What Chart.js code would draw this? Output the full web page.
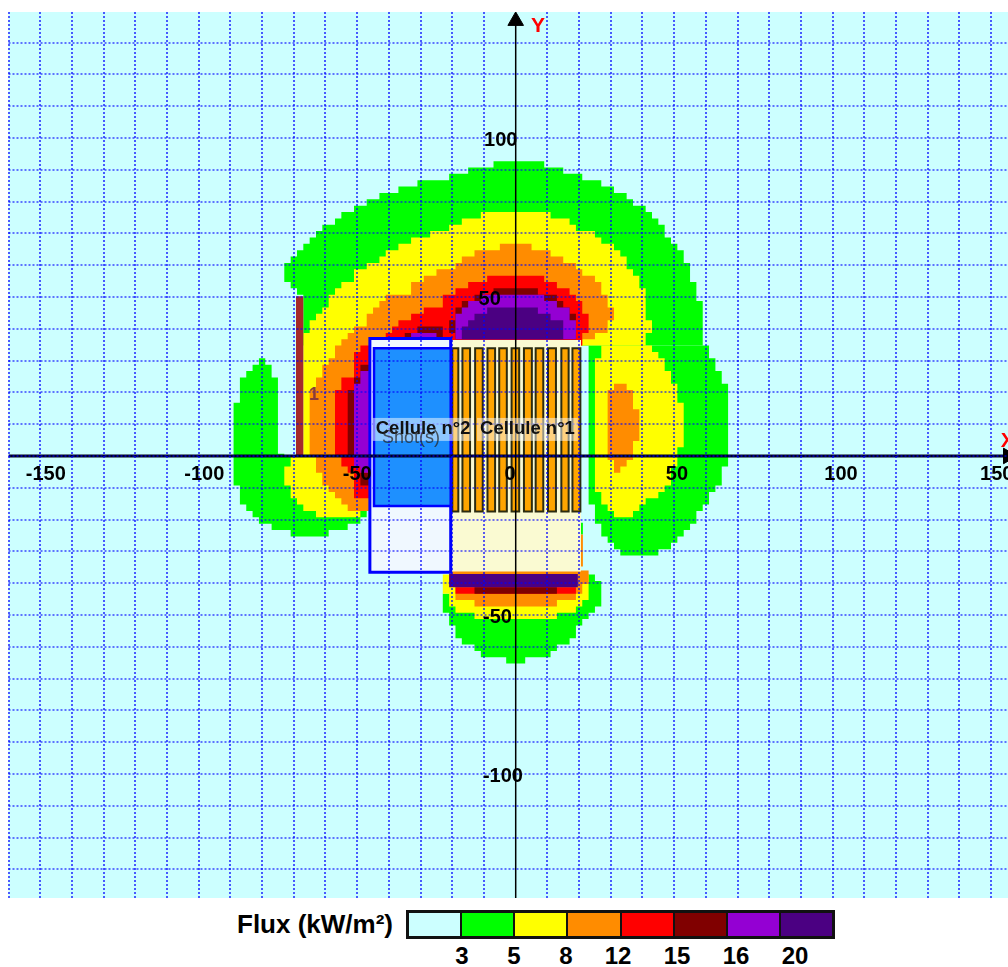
<!DOCTYPE html>
<html lang="en">

<head>
  <meta charset="UTF-8">
  <title>Flux thermique</title>
  <script src="https://cdn.jsdelivr.net/npm/chart.js"></script>
  <style>
    * {
      margin: 0;
      padding: 0;
      box-sizing: border-box;
    }

    body {
      width: 1008px;
      height: 967px;
      position: relative;
      overflow: hidden;
      background: #fff;
      font-family: 'Liberation Sans', Arial, sans-serif;
    }

    canvas {
      position: absolute;
      left: 0;
      top: 0;
    }

    .legend-title {
      position: absolute;
      right: 615px;
      top: 909px;
      font-size: 26px;
      font-weight: bold;
      white-space: nowrap;
    }

    .legend-bar {
      position: absolute;
      left: 406px;
      top: 910px;
      width: 429px;
      height: 29px;
      display: flex;
      border: 3px solid #111;
    }

    .legend-bar div {
      flex: 1;
      border-left: 2px solid #111;
    }

    .legend-bar div:first-child {
      border-left: none;
    }

    .legend-label {
      position: absolute;
      top: 942px;
      width: 60px;
      text-align: center;
      font-size: 24px;
      font-weight: bold;
    }
  </style>
</head>

<body>
  <canvas id="fluxChart" width="1008" height="900"></canvas>
  <div class="legend-title">Flux (kW/m²)</div>
  <div class="legend-bar" id="legendBar"></div>

  <script>
    // Colours and thresholds of the flux scale
    const fluxColors = ['#ccffff', '#00ff00', '#ffff00', '#ff8c00', '#ff0000', '#800000', '#9400d3', '#4b0082'];
    const fluxLabels = ['3', '5', '8', '12', '15', '16', '20'];

    const xTickLabels = [-150, -100, -50, 0, 50, 100, 150];
    const yTickLabels = [100, 50, -50, -100];

    // Flux zones, row by row: [top of row, left, right]. Last entry is the bottom of the last row.
    const greenTop = [[92.7, -7, 9], [90.7, -15, 15], [88.7, -21, 21], [86.7, -31, 27], [84.7, -37, 31], [82.7, -43, 35], [80.7, -47, 37], [78.7, -51, 41], [76.7, -55, 43], [74.7, -57, 45], [72.7, -61, 47], [70.7, -63, 47], [68.7, -65, 49], [66.7, -67, 51], [64.7, -69, 53], [62.7, -71, 53], [60.7, -73, 55], [54.7, -71, 57], [52.7, -69, 57], [50.7, -67, 57], [48.7, -67, 59], [34.7]];
    const greenRight = [[34.7, 23, 61], [30.7, 23, 63], [26.7, 23, 65], [22.7, 23, 67], [-3.3, 23, 65], [-9.3, 23, 63], [-11.3, 23, 61], [-15.3, 25, 59], [-17.3, 25, 57], [-21.3, 27, 55], [-23.3, 27, 53], [-25.3, 29, 51], [-27.3, 31, 49], [-29.3, 33, 45], [-31.3]];
    const greenLobe = [[30.7, -81, -79], [28.7, -83, -77], [26.7, -85, -77], [24.7, -87, -75], [16.7, -89, -75], [0.7, -89, -73], [0, -89, -47], [-9.3, -87, -47], [-15.3, -85, -47], [-17.3, -83, -47], [-19.3, -81, -49], [-21.3, -77, -53], [-23.3, -71, -59], [-25.3]];
    const greenBottom = [[-37.3, -21, 25], [-39.3, -21, 27], [-43.3, -23, 27], [-47.3, -23, 25], [-49.3, -21, 23], [-51.3, -21, 21], [-53.3, -19, 19], [-57.3, -17, 17], [-59.3, -13, 13], [-61.3, -11, 11], [-63.3, -3, 3], [-65.3]];
    const greenSliver = [[-21, 20, 21.2], [-24.7]];

    const yellowTop = [[76.7, -11, 11], [74.7, -17, 17], [72.7, -21, 19], [70.7, -27, 25], [68.7, -33, 27], [66.7, -37, 31], [64.7, -41, 33], [62.7, -43, 35], [60.7, -47, 35], [58.7, -51, 37], [56.7, -51, 39], [54.7, -55, 39], [52.7, -57, 41], [50.7, -59, 41], [46.7, -61, 41], [44.7, -63, 41], [42.7, -65, 43], [38.7, -67, 41], [34.7, -67, -20], [0]];
    const yellowRight = [[34.7, 27, 43], [32.7, 27, 45], [30.7, 25, 47], [26.7, 25, 49], [22.7, 25, 51], [16.7, 25, 53], [2.7, 25, 51], [-3.3, 25, 49], [-9.3, 25, 47], [-11.3, 27, 45], [-13.3, 27, 41], [-15.3, 29, 39], [-17.3, 31, 37], [-19.3]];
    const yellowLobe = [[0, -71, -47], [-3.3, -73, -47], [-9.3, -71, -47], [-13.3, -69, -47], [-15.3, -67, -47], [-17.3, -63, -49], [-19.3]];
    const yellowBottom = [[-37.3, -23, 23], [-43.3, -21, 23], [-45.3, -21, 21], [-47.3, -19, 19], [-49.3, -13, 13], [-51.3]];

    const orangeTop = [[66.7, -5, 5], [64.7, -13, 11], [62.7, -17, 15], [60.7, -19, 19], [58.7, -25, 21], [56.7, -29, 25], [54.7, -33, 27], [50.7, -41, 29], [48.7, -43, 29], [46.7, -45, 31], [44.7, -47, 31], [42.7, -47, 29], [40.7, -51, 29], [38.7, -53, 25], [36.7, -55, 21], [34.7, -57, -20], [30.7, -59, -20], [28.7, -61, -20], [24.7, -63, -20], [20.7, -65, -20], [0]];
    const orangeRight = [[22.7, 31, 35], [20.7, 29, 37], [14.7, 29, 39], [4.7, 29, 37], [-1.3, 31, 35], [-3.3, 31, 33], [-5.3]];
    const orangeLobe = [[0, -63, -45], [-5.3, -61, -45], [-9.3, -59, -45], [-11.3, -57, -45], [-13.3, -55, -45], [-15.3, -53, -45], [-17.3]];
    const orangeBottom = [[-36, -21, 23], [-40.3, -19, 21], [-43.3, -19, 19], [-45.3, -13, 13], [-47.3]];
    const orangeSliver = [[-24.7, 20, 21.2], [-34.8]];

    const redTop = [[56.7, -9, 9], [54.7, -15, 13], [52.7, -19, 17], [50.7, -23, 19], [48.7, -23, 21], [46.7, -29, 21], [44.7, -33, 23], [42.7, -37, 23], [40.7, -39, 23], [38.7, -41, 21], [36.7, -45, 21], [34.7, -49, -20], [32.7, -51, -20], [24.7, -55, -20], [20.7, -57, -20], [0]];
    const redLobe = [[0, -55, -45], [-3.3, -53, -45], [-5.3, -51, -45], [-13.3]];
    const redBottom = [[-41.3, -19, 19], [-43.3]];

    const maroonTop = [[52.7, -7, 7], [50.7, -13, 13], [48.7, -17, 15], [46.7, -19, 17], [44.7, -19, 19], [42.7, -21, 19], [38.7, -19, 19], [36.7]];
    const maroonCell = [[40.7, -31, -23], [38.7, -35, -23], [36.7]];
    const maroonSide = [[28.7, -49, -44], [24.7, -51, -44], [20.7, -53, -44], [0]];
    const maroonLobe = [[-5.3, -49, -45], [-9.3]];
    const maroonBottom = [[-41.3, -13, 13], [-43.3]];

    const purpleTop = [[50.7, -11, 9], [48.7, -15, 13], [46.7, -17, 17], [44.7, -19, 17], [42.7, -19, 19], [36.7]];
    const purpleCell = [[38.7, -33, -25], [36.7]];
    const purpleSide = [[26.7, -49, -44], [22.7, -51, -44], [0]];
    const purpleLobe = [[0, -51, -45], [-3.3, -49, -45], [-5.3]];

    const indigoTop = [[46.7, -9, 7], [44.7, -13, 11], [42.7, -15, 15], [40.7, -17, 15], [36.7]];
    const indigoBottom = [[-37.1, -21, 19.6], [-41.3]];

    const fluxZones = [
      [1, [greenTop, greenRight, greenLobe, greenBottom, greenSliver]],
      [2, [yellowTop, yellowRight, yellowLobe, yellowBottom]],
      [3, [orangeTop, orangeRight, orangeLobe, orangeBottom, orangeSliver]],
      [4, [redTop, redLobe, redBottom]],
      [5, [maroonTop, maroonCell, maroonSide, maroonLobe, maroonBottom]],
      [6, [purpleTop, purpleCell, purpleSide, purpleLobe]],
      [7, [indigoTop, indigoBottom]]
    ];

    // Buildings: [left, right, top, bottom]
    const wall = [-69.3, -67, 50.2, 0];
    const cellOne = [-20.5, 20.6, 36.5, -36.3];
    const cellTwo = [-46, -20.5, 36.9, -36.6];
    const cellTwoInner = [-44.7, -20.5, 33.9, -15.7];

    // Racks of cell 1
    const rackLeft = [-20, -16.8, -12.8, -8.9, -5.2, -1.3, 2.6, 6.3, 10.2, 14.4, 17.9];
    const rackRight = [-18.1, -14.4, -10.4, -6.5, -2.8, 1.1, 5.1, 8.7, 12.7, 16.7, 20.4];
    const rackTop = 33.9;
    const rackBottom = -17.5;

    // Turn rows into an outline. It starts on the leftmost vertex and ends on the rightmost
    // one because the filler clips to the x range between first and last point.
    function rowsToPoints(rows) {
      const right = [];
      const left = [];
      for (let i = 0; i < rows.length - 1; i++) {
        right.push({ x: rows[i][2], y: rows[i][0] }, { x: rows[i][2], y: rows[i + 1][0] });
        left.unshift({ x: rows[i][1], y: rows[i + 1][0] }, { x: rows[i][1], y: rows[i][0] });
      }
      const outline = right.concat(left);
      let minAt = 0;
      let maxAt = 0;
      outline.forEach((p, i) => {
        if (p.x < outline[minAt].x) minAt = i;
        if (p.x > outline[maxAt].x) maxAt = i;
      });
      const points = outline.slice(minAt).concat(outline.slice(0, minAt));
      points.push(outline[minAt], outline[maxAt]);
      return points;
    }

    function rectToPoints([left, right, top, bottom]) {
      return [
        { x: left, y: top }, { x: right, y: top }, { x: right, y: bottom },
        { x: left, y: bottom }, { x: left, y: top }, { x: right, y: top }
      ];
    }

    function shape(points, color, borderColor, borderWidth) {
      return {
        data: points,
        fill: 'shape',
        backgroundColor: color,
        borderColor: borderColor || color,
        borderWidth: borderWidth || 0,
        pointRadius: 0,
        tension: 0
      };
    }

    const datasets = [];
    fluxZones.forEach(([level, zones]) => {
      zones.forEach(rows => datasets.push(shape(rowsToPoints(rows), fluxColors[level])));
    });
    datasets.push(shape(rectToPoints(wall), '#a52a2a'));
    datasets.push(shape(rectToPoints(cellOne), '#fafad2'));
    rackLeft.forEach((left, i) => {
      datasets.push(shape(rectToPoints([left, rackRight[i], rackTop, rackBottom]), '#ffa500', '#2b2b10', 2));
    });
    datasets.push(shape(rectToPoints(cellTwo), '#f0f8ff', '#0000ff', 3));
    datasets.push(shape(rectToPoints(cellTwoInner), '#1e90ff', '#0000ff', 2.5));

    // Axis lines and the two arrow heads
    datasets.push({ data: [{ x: -160, y: 0 }, { x: 155.3, y: 0 }], borderColor: '#000020', borderWidth: 3, pointRadius: 0 });
    datasets.push({ data: [{ x: 0, y: -139 }, { x: 0, y: 139 }], borderColor: '#000', borderWidth: 1.5, pointRadius: 0 });
    datasets.push({ data: [{ x: 0, y: 136.8 }], showLine: false, pointStyle: 'triangle', pointRadius: 9, backgroundColor: '#000', borderColor: '#000' });
    datasets.push({ data: [{ x: 155.3, y: 0 }], showLine: false, pointStyle: 'triangle', pointRadius: 9, rotation: 90, backgroundColor: '#000', borderColor: '#000', clip: false });

    // first array entry painted first
    datasets.forEach((ds, i) => { ds.order = datasets.length - i; });

    // Plot background
    const plotBackground = {
      id: 'plotBackground',
      beforeDraw(chart) {
        const { ctx, chartArea: a } = chart;
        ctx.save();
        ctx.fillStyle = fluxColors[0];
        ctx.fillRect(a.left, a.top, a.right - a.left, a.bottom - a.top);
        ctx.restore();
      }
    };

    // Names written on the map
    const plotLabels = {
      id: 'plotLabels',
      afterDraw(chart) {
        const { ctx, scales: { x, y } } = chart;
        const write = (text, vx, vy, font, color, back) => {
          const px = x.getPixelForValue(vx);
          const py = y.getPixelForValue(vy);
          ctx.font = font;
          ctx.textAlign = 'center';
          ctx.textBaseline = 'middle';
          if (back) {
            const w = ctx.measureText(text).width + 6;
            ctx.fillStyle = back;
            ctx.fillRect(px - w / 2, py - 11, w, 23);
          }
          ctx.fillStyle = color;
          ctx.fillText(text, px, py);
        };
        ctx.save();
        write('1', -63.6, 19.2, 'bold 18px "Liberation Sans"', '#8b3a3a');
        write('Cellule n°2', -29.2, 8.5, 'bold 18.5px "Liberation Sans"', '#111', 'rgba(255,255,255,0.5)');
        write('Cellule n°1', 3.7, 8.5, 'bold 18.5px "Liberation Sans"', '#111', 'rgba(255,255,255,0.5)');
        write('Shot(s)', -33, 5.5, '18px "Liberation Sans"', 'rgba(40,40,40,0.75)');
        write('Y', 7, 135.2, 'bold 21px "Liberation Sans"', '#ff0000');
        write('X', 155.2, 4.7, 'bold 21px "Liberation Sans"', '#ff0000');
        ctx.restore();
      }
    };

    // The axes sit inside the plot, they must not shrink it
    function noAxisPadding(scale) {
      scale.paddingLeft = scale.paddingRight = scale.paddingTop = scale.paddingBottom = 0;
    }

    new Chart(document.getElementById('fluxChart'), {
      type: 'line',
      data: { datasets },
      plugins: [plotBackground, plotLabels],
      options: {
        responsive: false,
        animation: false,
        events: [],
        layout: { autoPadding: false, padding: { left: 8.5, top: 12, right: 0, bottom: 2 } },
        plugins: { legend: { display: false }, tooltip: { enabled: false } },
        scales: {
          x: {
            type: 'linear',
            position: { y: 0 },
            min: -160,
            max: 155.3,
            afterFit: noAxisPadding,
            border: { display: false, dash: [2, 2] },
            grid: {
              z: 1,
              drawTicks: false,
              lineWidth: 2,
              color: ctx => (ctx.tick && ctx.tick.value === 0 ? 'transparent' : 'rgba(0, 0, 255, 0.65)')
            },
            ticks: {
              z: 2,
              stepSize: 10,
              includeBounds: false,
              autoSkip: false,
              maxRotation: 0,
              padding: 7,
              color: '#000',
              font: { family: 'Liberation Sans', size: 20, weight: 'bold' },
              // spaces nudge the labels the way they sit in the original map
              callback: value => {
                if (!xTickLabels.includes(value)) return '';
                const pad = { '-150': '  ', '-100': '  ', 50: ' ', 100: '   ', 150: '  ' }[value] || '';
                return value === 0 ? '0  ' : pad + String(value);
              }
            }
          },
          y: {
            type: 'linear',
            position: { x: 2.3 },
            min: -139,
            max: 139.6,
            afterFit: noAxisPadding,
            border: { display: false, dash: [2, 2] },
            grid: {
              z: 1,
              drawTicks: false,
              lineWidth: 2,
              color: 'rgba(0, 0, 255, 0.55)'
            },
            ticks: {
              z: 2,
              stepSize: 10,
              includeBounds: false,
              autoSkip: false,
              padding: 0,
              labelOffset: 3,
              color: '#000',
              font: { family: 'Liberation Sans', size: 20, weight: 'bold' },
              // trailing spaces centre the labels on the axis line
              callback: value => {
                if (!yTickLabels.includes(value)) return '';
                const pad = { 100: ' ', 50: '    ', '-50': '  ', '-100': '' }[value];
                return String(value) + pad;
              }
            }
          }
        }
      }
    });

    // Legend under the map
    const legendBar = document.getElementById('legendBar');
    fluxColors.forEach(color => {
      const swatch = document.createElement('div');
      swatch.style.background = color;
      legendBar.appendChild(swatch);
    });
    const legendLabelCenters = [462, 514, 566, 618, 677, 736, 795];
    fluxLabels.forEach((text, i) => {
      const label = document.createElement('div');
      label.className = 'legend-label';
      label.style.left = (legendLabelCenters[i] - 30) + 'px';
      label.textContent = text;
      document.body.appendChild(label);
    });
  </script>
</body>

</html>
